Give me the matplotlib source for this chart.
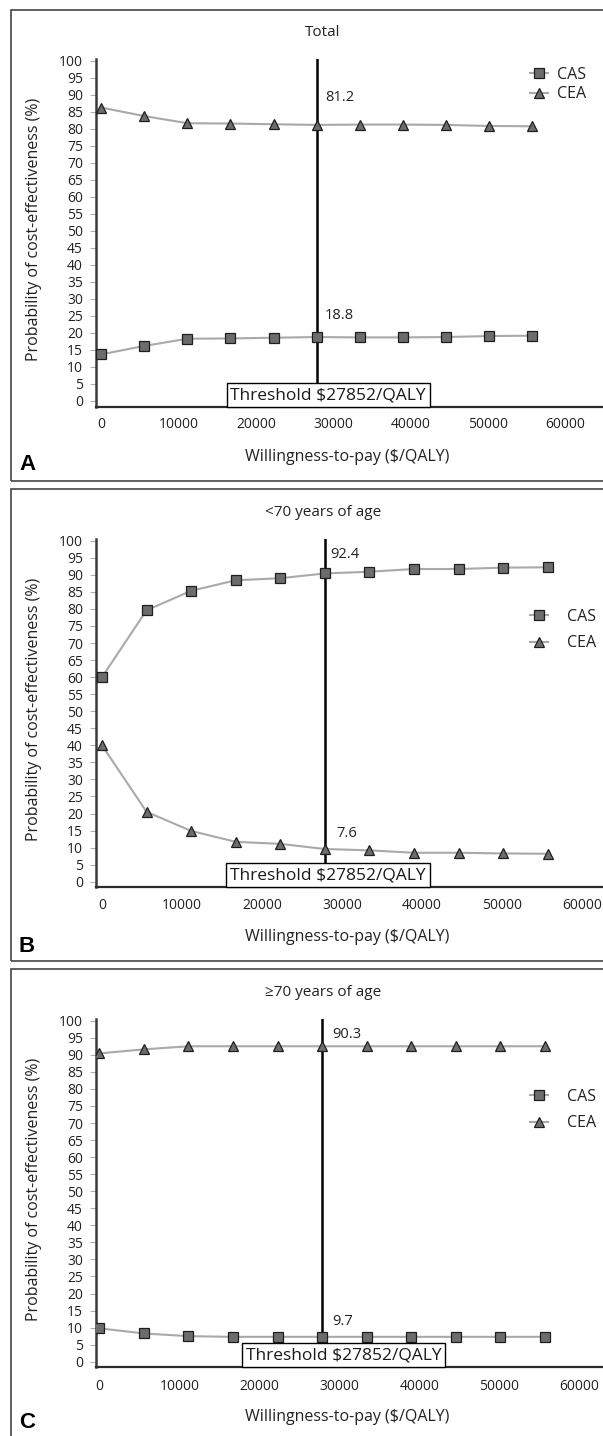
import matplotlib
matplotlib.use("Agg")
import matplotlib.pyplot as plt
from matplotlib.patches import Rectangle
from matplotlib.lines import Line2D

plt.rcParams['font.family'] = ['Open Sans', 'DejaVu Sans']

# --- DATA ---
wtp = [0, 5570, 11141, 16711, 22282, 27852, 33422, 38993, 44563, 50134, 55704]
threshold = 27852
x_ticks = [0, 10000, 20000, 30000, 40000, 50000, 60000]
y_ticks = list(range(0, 101, 5))

titles = ["Total", "<70 years of age", "\u226570 years of age"]
letters = ["A", "B", "C"]

cas_total = [13.7, 16.2, 18.3, 18.4, 18.6, 18.8, 18.7, 18.7, 18.8, 19.1, 19.2]
cea_total = [86.3, 83.8, 81.7, 81.6, 81.4, 81.2, 81.3, 81.3, 81.2, 80.9, 80.8]

cas_young = [60.0, 79.6, 85.3, 88.4, 89.0, 90.4, 90.9, 91.7, 91.7, 92.1, 92.2]
cea_young = [40.0, 20.5, 14.9, 11.7, 11.1, 9.6, 9.2, 8.5, 8.5, 8.3, 8.2]

cas_old = [9.8, 8.3, 7.5, 7.3, 7.3, 7.3, 7.3, 7.3, 7.3, 7.3, 7.3]
cea_old = [90.4, 91.6, 92.5, 92.5, 92.5, 92.5, 92.5, 92.5, 92.5, 92.5, 92.5]

# values printed next to the threshold line (upper, lower)
thr_labels = [("81.2", "18.8"), ("92.4", "7.6"), ("90.3", "9.7")]

# --- LAYOUT (pixels) ---
W, H = 603, 1436
panels = [
    dict(box=(10, 481), ax=(59.3, 407.1), x0=101.3, ppk=7.73, ylo=-1.8,
         ann=(89.4, 25.0), ann_dx=(6, 6), box_dx=1500,
         leg_y=84.5, leg_gap=0.2, leg_pad=0.6,
         title_y=33, tick_y=425, xlab_y=457, letter_y=465, ylab_y=229),
    dict(box=(489, 961), ax=(539.0, 887.2), x0=102.0, ppk=8.0, ylo=-1.6,
         ann=(96.1, 14.2), ann_dx=(4, 8), box_dx=400,
         leg_y=630, leg_gap=0.65, leg_pad=1.2,
         title_y=513, tick_y=906, xlab_y=937, letter_y=946, ylab_y=709),
    dict(box=(969, 1450), ax=(1019.0, 1367.2), x0=99.3, ppk=8.0, ylo=-1.6,
         ann=(96.1, 11.7), ann_dx=(7, 7), box_dx=2700,
         leg_y=1110, leg_gap=0.65, leg_pad=1.2,
         title_y=993, tick_y=1387, xlab_y=1417, letter_y=1423, ylab_y=1189),
]
series = [(cas_total, cea_total), (cas_young, cea_young), (cas_old, cea_old)]

line_col = '#a9a9a9'
face_col = '#6c6c6c'
edge_col = '#1e1e1e'
text_col = '#222222'

fig = plt.figure(figsize=(W / 100, H / 100), dpi=100)

for i, p in enumerate(panels):
    cas, cea = series[i]
    # panel frame (open on the right, as in the scan)
    top, bot = p['box']
    fig.patches.append(Rectangle((11 / W, 1 - bot / H), 1.2, (bot - top) / H,
                                 transform=fig.transFigure, fill=False,
                                 edgecolor='#444444', lw=1.2, clip_on=False))

    at, ab = p['ax']
    left_px = 95.5
    ax = fig.add_axes([left_px / W, 1 - ab / H, (W - left_px) / W, (ab - at) / H])
    ax.patch.set_alpha(0)

    ax.plot(wtp, cas, color=line_col, lw=1.5, marker='s', ms=6.5,
            mfc=face_col, mec=edge_col, mew=0.9, zorder=3)
    ax.plot(wtp, cea, color=line_col, lw=1.5, marker='^', ms=7,
            mfc=face_col, mec=edge_col, mew=0.9, zorder=3)

    ax.axvline(threshold, color='black', lw=1.8, zorder=2)

    ppk = p['ppk'] / 1000
    ax.set_xlim((left_px - p['x0']) / ppk, (W - p['x0']) / ppk)
    ax.set_ylim(p['ylo'], 100.5)

    ax.set_yticks(y_ticks)
    ax.set_xticks(x_ticks)
    ax.set_xticklabels([str(v) for v in x_ticks])
    ax.tick_params(axis='y', direction='out', length=4, width=0.8,
                   color='#b0b0b0', labelsize=10, pad=5, labelcolor=text_col)
    ax.tick_params(axis='x', length=0, labelsize=10, labelcolor=text_col,
                   pad=(p['tick_y'] - ab) * 0.72 - 6)
    for s in ['top', 'right']:
        ax.spines[s].set_visible(False)
    ax.spines['left'].set_color('#3a3a3a')
    ax.spines['left'].set_linewidth(1.8)
    ax.spines['bottom'].set_color('#2a2a2a')
    ax.spines['bottom'].set_linewidth(1.6)

    # threshold box
    ax.text(threshold + p['box_dx'], p['ylo'] + 1.2, "Threshold $27852/QALY",
            ha='center', va='bottom', fontsize=12.5, color='#1a1a1a', zorder=5,
            bbox=dict(boxstyle='square,pad=0.22', fc='white', ec='black', lw=1.0))

    # values at threshold
    up, lo = thr_labels[i]
    ax.annotate(up, xy=(threshold, p['ann'][0]), xytext=(p['ann_dx'][0], 0),
                textcoords='offset points', va='center', fontsize=10.5, color=text_col)
    ax.annotate(lo, xy=(threshold, p['ann'][1]), xytext=(p['ann_dx'][1], 0),
                textcoords='offset points', va='center', fontsize=10.5, color=text_col)

    handles = [
        Line2D([], [], color=line_col, lw=1.5, marker='s', ms=6.5,
               mfc=face_col, mec=edge_col, mew=0.9),
        Line2D([], [], color=line_col, lw=1.5, marker='^', ms=7,
               mfc=face_col, mec=edge_col, mew=0.9),
    ]
    fig.legend(handles, ["CAS", "CEA"], loc='center left',
               bbox_to_anchor=(530 / W, 1 - p['leg_y'] / H), frameon=False,
               fontsize=11.5, handlelength=1.1, handletextpad=p['leg_pad'],
               labelspacing=p['leg_gap'], borderpad=0, borderaxespad=0,
               labelcolor=text_col)

    fig.text(323 / W, 1 - p['title_y'] / H, titles[i], ha='center', va='center',
             fontsize=11, color=text_col)
    fig.text(347 / W, 1 - p['xlab_y'] / H, "Willingness-to-pay ($/QALY)",
             ha='center', va='center', fontsize=11.5, color=text_col)
    fig.text(34.5 / W, 1 - p['ylab_y'] / H, "Probability of cost-effectiveness (%)",
             ha='center', va='center', rotation=90, fontsize=11.5, color=text_col)
    fig.text(19 / W, 1 - p['letter_y'] / H, letters[i], ha='left', va='center',
             fontsize=16, fontweight='bold', family=['Liberation Sans', 'DejaVu Sans'])

fig.savefig("out.png", dpi=100)
